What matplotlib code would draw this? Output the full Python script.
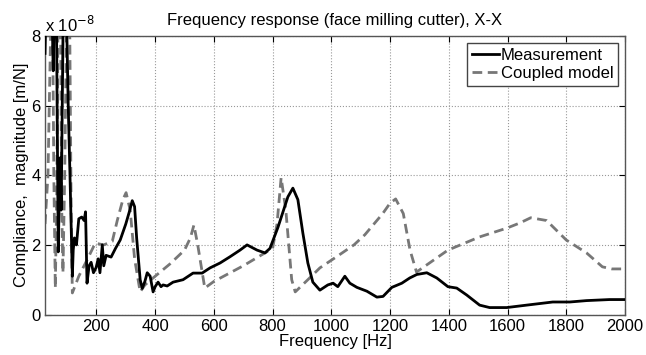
import matplotlib
matplotlib.use("Agg")
import matplotlib.pyplot as plt
import numpy as np

plt.rcParams['font.family'] = ['Liberation Sans', 'DejaVu Sans']

# Measurement (solid black), values in 1e-8 m/N
meas_f = [25, 30, 40, 48, 53, 58, 63, 70, 76, 80, 88, 96, 104, 110, 118, 121, 125, 132, 140,
          150, 158, 163, 168, 175, 182, 190, 199, 206, 212, 220, 225, 233, 250, 265, 281,
          300, 312, 322, 330, 337, 349, 356, 365, 373, 383, 393, 400, 410, 420, 427, 441,
          461, 495, 529, 560, 587, 621, 655, 689, 713, 747, 774, 791, 818, 852, 869, 886,
          903, 920, 937, 961, 988, 1006, 1022, 1046, 1063, 1087, 1121, 1155, 1176, 1206,
          1240, 1267, 1291, 1325, 1359, 1397, 1427, 1461, 1505, 1539, 1597, 1665, 1754,
          1812, 1869, 1947, 2000]
meas_v = [7.5, 9.5, 9.5, 9.0, 7.0, 9.5, 9.5, 1.8, 4.5, 3.0, 9.5, 9.5, 6.0, 4.0, 1.1, 1.85, 2.2, 2.0, 2.75,
          2.8, 2.7, 2.95, 0.9, 1.4, 1.5, 1.2, 1.35, 1.6, 1.2, 2.0, 1.4, 1.7, 1.65, 1.9, 2.14,
          2.6, 2.95, 3.27, 3.1, 2.2, 1.0, 0.75, 0.95, 1.2, 1.1, 0.65, 0.8, 0.93, 0.8, 0.85, 0.82,
          0.93, 1.0, 1.19, 1.19, 1.34, 1.48, 1.66, 1.85, 2.0, 1.85, 1.77, 1.9, 2.5, 3.38, 3.63, 3.3,
          2.34, 1.48, 0.93, 0.7, 0.85, 0.9, 0.8, 1.1, 0.9, 0.78, 0.67, 0.5, 0.52, 0.78,
          0.9, 1.05, 1.15, 1.2, 1.05, 0.8, 0.76, 0.56, 0.27, 0.2, 0.2, 0.27, 0.36,
          0.36, 0.4, 0.43, 0.43]

# Coupled model (dashed gray), values in 1e-8 m/N
model_f = [25, 35, 45, 50, 55, 60, 65, 70, 77, 82, 86, 92, 100, 108, 114, 118, 140, 170, 196,
           225, 254, 271, 290, 301, 315, 330, 349, 365, 400, 450, 500, 520, 532, 545, 569, 600, 700,
           800, 815, 829, 845, 865, 877, 920, 961, 1016, 1077, 1114, 1175, 1200, 1219, 1245, 1268,
           1290, 1397, 1505, 1597, 1642, 1679, 1733, 1800, 1869, 1923, 1955, 2000]
model_v = [2.6, 4.0, 8.5, 9.5, 4.0, 0.76, 3.5, 9.5, 9.5, 3.0, 1.2, 4.0, 9.5, 9.5, 3.0, 0.62, 1.1, 1.6, 2.05,
           2.0, 2.1, 2.7, 3.3, 3.5, 3.0, 1.6, 0.65, 0.85, 1.1, 1.45, 1.85, 2.2, 2.57, 2.0, 0.76, 0.95, 1.4,
           1.9, 2.6, 3.93, 3.0, 1.0, 0.65, 1.0, 1.34, 1.65, 2.0, 2.29, 2.9, 3.2, 3.32, 2.9, 1.85,
           1.22, 1.85, 2.23, 2.48, 2.63, 2.78, 2.7, 2.14, 1.77, 1.37, 1.31, 1.31]

scale = 1e-8
x_ticks = [200, 400, 600, 800, 1000, 1200, 1400, 1600, 1800, 2000]
y_ticks = [0, 2, 4, 6, 8]

fig = plt.figure(figsize=(6.46, 3.55), dpi=100)
ax = fig.add_axes([0.0697, 0.114, 0.8978, 0.7846])

ax.plot(meas_f, np.array(meas_v) * scale, color='black', lw=2.0, label='Measurement', zorder=3)
ax.plot(model_f, np.array(model_v) * scale, color='#777777', lw=2.0, ls=(0, (3.5, 2.0)),
        label='Coupled model', zorder=2)

ax.set_xlim(25, 2000)
ax.set_ylim(0, 8e-8)
ax.set_xticks(x_ticks)
ax.set_yticks([v * scale for v in y_ticks])
ax.set_yticklabels([str(v) for v in y_ticks])
ax.tick_params(direction='in', top=True, right=True, length=4, labelsize=12, pad=3)
ax.grid(True, ls=':', color='#999999', lw=0.8)
for s in ax.spines.values():
    s.set_color('#555555')
    s.set_linewidth(1.0)

ax.set_title('Frequency response (face milling cutter), X-X', fontsize=12, pad=8)
ax.set_xlabel('Frequency [Hz]', fontsize=12, labelpad=0)
ax.set_ylabel('Compliance,  magnitude [m/N]', fontsize=12, labelpad=2)
ax.text(0.0, 1.005, 'x 10$^{-8}$', transform=ax.transAxes, fontsize=12, va='bottom', ha='left')

leg = ax.legend(loc='upper right', fontsize=12, handlelength=1.6, handletextpad=0.1,
                borderpad=0.3, labelspacing=0.2, fancybox=False, framealpha=1,
                edgecolor='#444444', borderaxespad=0.4)
leg.get_frame().set_linewidth(1.0)

fig.savefig('out.png', dpi=100)
